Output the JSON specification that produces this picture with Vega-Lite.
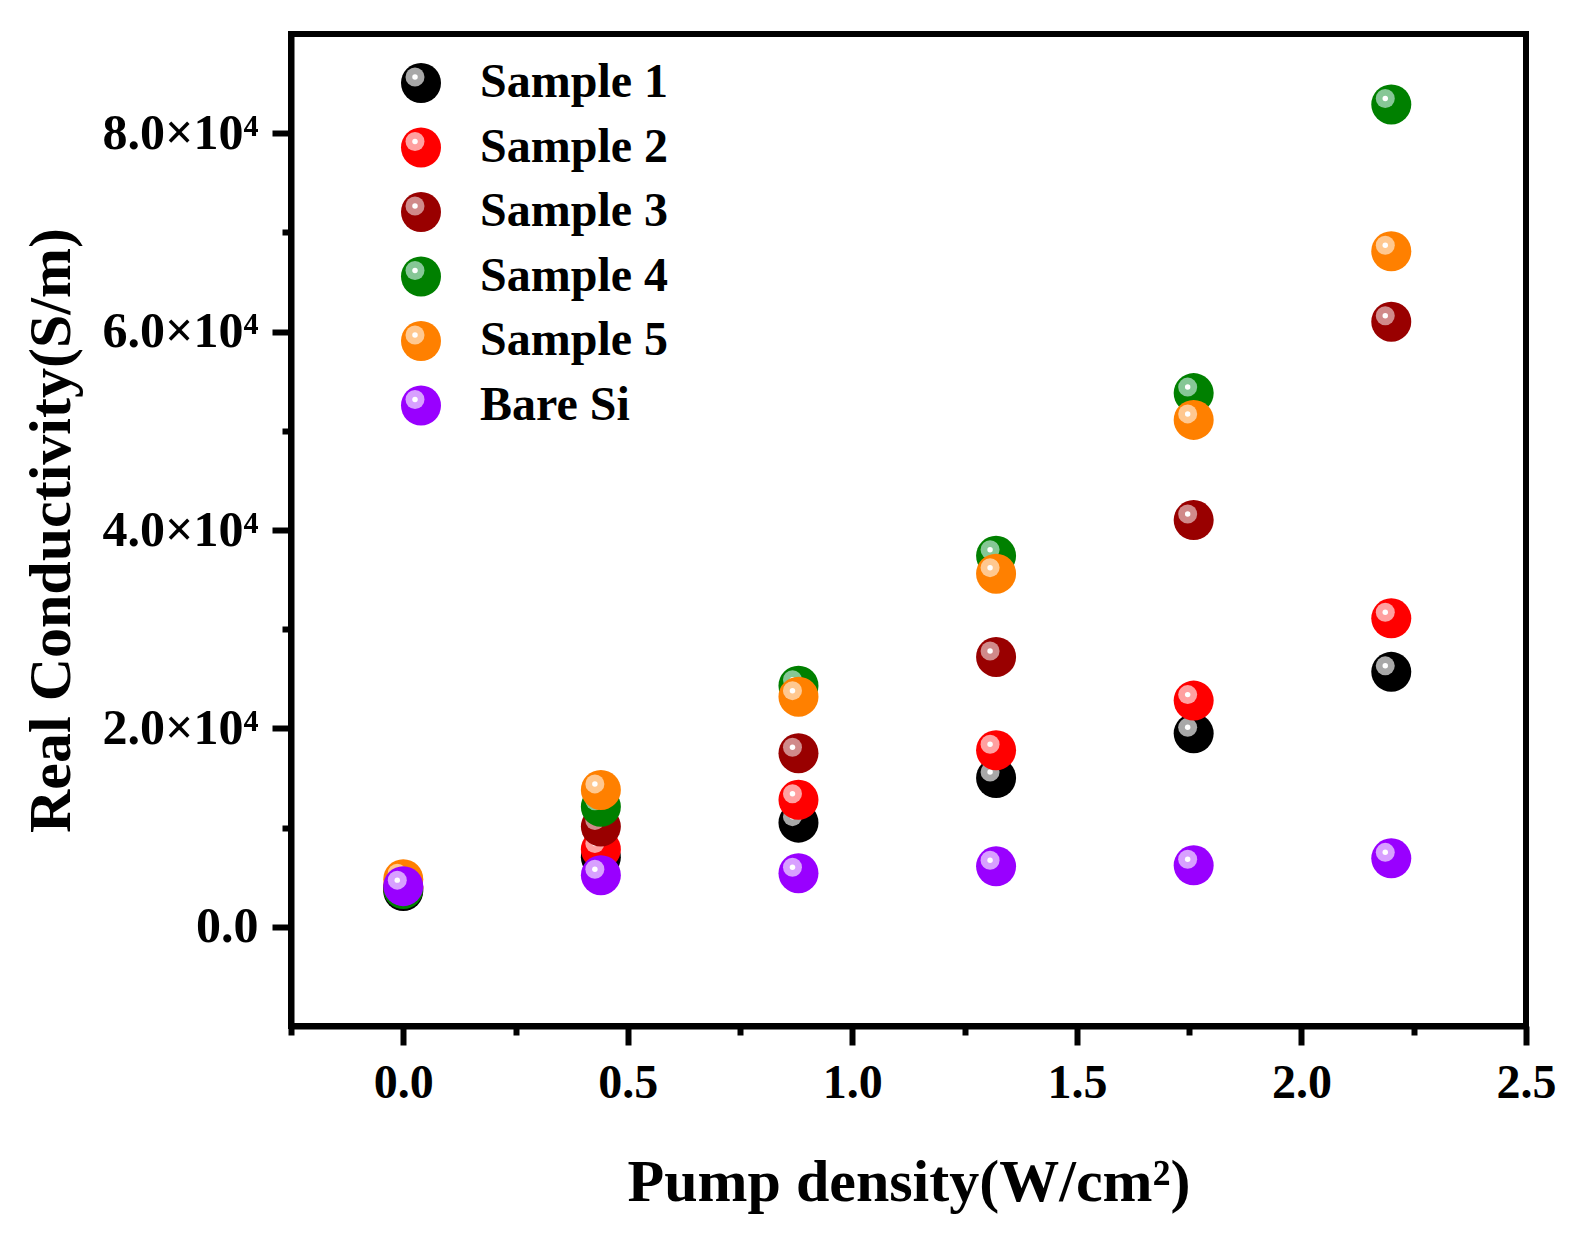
{
  "$schema": "https://vega.github.io/schema/vega-lite/v6.json",
  "description": "Real conductivity against pump density",
  "autosize": "none",
  "width": 1235,
  "height": 992,
  "padding": {"left": 291, "top": 34, "right": 57, "bottom": 218},
  "background": "white",
  "config": {
    "font": "Liberation Serif",
    "view": {"stroke": "black", "strokeWidth": 6}
  },
  "data": {
    "values": [
      {"series": "Sample 1", "k": 1, "pump": 0, "sigma": 3600},
      {"series": "Sample 1", "k": 1, "pump": 0.44, "sigma": 7000},
      {"series": "Sample 1", "k": 1, "pump": 0.88, "sigma": 10500},
      {"series": "Sample 1", "k": 1, "pump": 1.32, "sigma": 15000},
      {"series": "Sample 1", "k": 1, "pump": 1.76, "sigma": 19500},
      {"series": "Sample 1", "k": 1, "pump": 2.2, "sigma": 25700},
      {"series": "Sample 2", "k": 2, "pump": 0, "sigma": 3900},
      {"series": "Sample 2", "k": 2, "pump": 0.44, "sigma": 7800},
      {"series": "Sample 2", "k": 2, "pump": 0.88, "sigma": 12800},
      {"series": "Sample 2", "k": 2, "pump": 1.32, "sigma": 17800},
      {"series": "Sample 2", "k": 2, "pump": 1.76, "sigma": 22800},
      {"series": "Sample 2", "k": 2, "pump": 2.2, "sigma": 31100},
      {"series": "Sample 3", "k": 3, "pump": 0, "sigma": 4000},
      {"series": "Sample 3", "k": 3, "pump": 0.44, "sigma": 10100},
      {"series": "Sample 3", "k": 3, "pump": 0.88, "sigma": 17500},
      {"series": "Sample 3", "k": 3, "pump": 1.32, "sigma": 27200},
      {"series": "Sample 3", "k": 3, "pump": 1.76, "sigma": 41000},
      {"series": "Sample 3", "k": 3, "pump": 2.2, "sigma": 61000},
      {"series": "Sample 4", "k": 4, "pump": 0, "sigma": 3800},
      {"series": "Sample 4", "k": 4, "pump": 0.44, "sigma": 12100},
      {"series": "Sample 4", "k": 4, "pump": 0.88, "sigma": 24300},
      {"series": "Sample 4", "k": 4, "pump": 1.32, "sigma": 37400},
      {"series": "Sample 4", "k": 4, "pump": 1.76, "sigma": 53800},
      {"series": "Sample 4", "k": 4, "pump": 2.2, "sigma": 82900},
      {"series": "Sample 5", "k": 5, "pump": 0, "sigma": 4800},
      {"series": "Sample 5", "k": 5, "pump": 0.44, "sigma": 13800},
      {"series": "Sample 5", "k": 5, "pump": 0.88, "sigma": 23200},
      {"series": "Sample 5", "k": 5, "pump": 1.32, "sigma": 35600},
      {"series": "Sample 5", "k": 5, "pump": 1.76, "sigma": 51100},
      {"series": "Sample 5", "k": 5, "pump": 2.2, "sigma": 68100},
      {"series": "Bare Si", "k": 6, "pump": 0, "sigma": 4100},
      {"series": "Bare Si", "k": 6, "pump": 0.44, "sigma": 5200},
      {"series": "Bare Si", "k": 6, "pump": 0.88, "sigma": 5400},
      {"series": "Bare Si", "k": 6, "pump": 1.32, "sigma": 6100},
      {"series": "Bare Si", "k": 6, "pump": 1.76, "sigma": 6200},
      {"series": "Bare Si", "k": 6, "pump": 2.2, "sigma": 6900}
    ]
  },
  "encoding": {
    "x": {
      "field": "pump",
      "type": "quantitative",
      "scale": {"domain": [-0.25, 2.5], "nice": false, "zero": false},
      "axis": {
        "values": [-0.25, 0, 0.25, 0.5, 0.75, 1, 1.25, 1.5, 1.75, 2, 2.25, 2.5],
        "labelExpr": "round(datum.value * 4) % 2 === 0 ? format(datum.value, '.1f') : ''",
        "tickSize": {"condition": {"test": "round(datum.value * 4) % 2 === 0", "value": 19}, "value": 9},
        "tickWidth": 6,
        "tickColor": "black",
        "domainWidth": 6,
        "domainColor": "black",
        "grid": false,
        "labelFontSize": 48,
        "labelFontWeight": "bold",
        "labelColor": "black",
        "labelPadding": 14,
        "labelFlush": false,
        "labelOverlap": false,
        "title": "Pump density(W/cm²)",
        "titleFontSize": 60,
        "titleFontWeight": "bold",
        "titleColor": "black",
        "titlePadding": 46
      }
    },
    "y": {
      "field": "sigma",
      "type": "quantitative",
      "scale": {"domain": [-10000, 90000], "nice": false, "zero": false},
      "axis": {
        "values": [0, 10000, 20000, 30000, 40000, 50000, 60000, 70000, 80000],
        "labelExpr": "datum.value === 0 ? '0.0' : (datum.value % 20000 === 0 ? format(datum.value / 10000, '.1f') + '×10⁴' : '')",
        "tickSize": {"condition": {"test": "datum.value % 20000 === 0", "value": 19}, "value": 9},
        "tickWidth": 6,
        "tickColor": "black",
        "domainWidth": 6,
        "domainColor": "black",
        "grid": false,
        "labelFontSize": 50,
        "labelFontWeight": "bold",
        "labelColor": "black",
        "labelPadding": 14,
        "labelFlush": false,
        "labelOverlap": false,
        "title": "Real Conductivity(S/m)",
        "titleFontSize": 60,
        "titleFontWeight": "bold",
        "titleColor": "black",
        "titlePadding": 20
      }
    }
  },
  "layer": [
    {
      "transform": [{"filter": "datum.series === 'Sample 1'"}],
      "layer": [
        {
          "mark": {"type": "point", "filled": true, "opacity": 1, "strokeWidth": 0, "size": 1600},
          "encoding": {
            "fill": {
              "field": "series", "type": "nominal",
              "scale": {"domain": ["Sample 1", "Sample 2", "Sample 3", "Sample 4", "Sample 5", "Bare Si"], "range": ["#000000", "#ff0000", "#990000", "#008000", "#ff8000", "#9900ff"]},
              "legend": {
                "orient": "none", "legendX": 106, "legendY": 25, "title": null, "padding": 0,
                "symbolType": "circle", "symbolSize": 1600, "symbolStrokeWidth": 0, "symbolOpacity": 1,
                "labelFont": "Liberation Serif", "labelFontSize": 48, "labelFontWeight": "bold", "labelColor": "black",
                "labelOffset": 35, "labelLimit": 400, "rowPadding": 16.5
              }
            }
          }
        },
        {
          "mark": {"type": "point", "filled": true, "opacity": 1, "strokeWidth": 0, "size": 361, "xOffset": -6, "yOffset": -6},
          "encoding": {
            "color": {
              "field": "series", "type": "nominal",
              "sort": {"field": "k", "op": "min"},
              "scale": {"range": ["#a8a8a8", "#ffa0a0", "#d08a8a", "#86c796", "#ffc890", "#d8a0ff"]},
              "legend": {
                "orient": "none", "legendX": 100, "legendY": 19, "title": null, "padding": 0,
                "symbolType": "circle", "symbolSize": 361, "symbolStrokeWidth": 0, "symbolOpacity": 1,
                "labelExpr": "''", "labelFontSize": 48,
                "labelOffset": 35, "rowPadding": 16.5
              }
            }
          }
        },
        {
          "mark": {"type": "point", "filled": true, "opacity": 1, "strokeWidth": 0, "size": 30, "color": "white", "xOffset": -6, "yOffset": -6},
          "encoding": {
            "shape": {
              "field": "series", "type": "nominal",
              "sort": {"field": "k", "op": "max"},
              "scale": {"range": ["circle", "circle", "circle", "circle", "circle", "circle"]},
              "legend": {
                "orient": "none", "legendX": 100, "legendY": 19, "title": null, "padding": 0,
                "symbolType": "circle", "symbolSize": 30, "symbolStrokeWidth": 0, "symbolOpacity": 1, "symbolFillColor": "white",
                "labelExpr": "''", "labelFontSize": 48,
                "labelOffset": 35, "rowPadding": 16.5
              }
            }
          }
        }
      ]
    },
    {
      "transform": [{"filter": "datum.series === 'Sample 2'"}],
      "layer": [
        {"mark": {"type": "point", "filled": true, "opacity": 1, "strokeWidth": 0, "size": 1600},
         "encoding": {"fill": {"field": "series", "type": "nominal", "scale": {"domain": ["Sample 1", "Sample 2", "Sample 3", "Sample 4", "Sample 5", "Bare Si"], "range": ["#000000", "#ff0000", "#990000", "#008000", "#ff8000", "#9900ff"]}}}},
        {"mark": {"type": "point", "filled": true, "opacity": 1, "strokeWidth": 0, "size": 361, "xOffset": -6, "yOffset": -6},
         "encoding": {"color": {"field": "series", "type": "nominal", "sort": {"field": "k", "op": "min"}, "scale": {"range": ["#a8a8a8", "#ffa0a0", "#d08a8a", "#86c796", "#ffc890", "#d8a0ff"]}}}},
        {"mark": {"type": "point", "filled": true, "opacity": 1, "strokeWidth": 0, "size": 30, "color": "white", "xOffset": -6, "yOffset": -6},
         "encoding": {"shape": {"field": "series", "type": "nominal", "sort": {"field": "k", "op": "max"}, "scale": {"range": ["circle", "circle", "circle", "circle", "circle", "circle"]}}}}
      ]
    },
    {
      "transform": [{"filter": "datum.series === 'Sample 3'"}],
      "layer": [
        {"mark": {"type": "point", "filled": true, "opacity": 1, "strokeWidth": 0, "size": 1600},
         "encoding": {"fill": {"field": "series", "type": "nominal", "scale": {"domain": ["Sample 1", "Sample 2", "Sample 3", "Sample 4", "Sample 5", "Bare Si"], "range": ["#000000", "#ff0000", "#990000", "#008000", "#ff8000", "#9900ff"]}}}},
        {"mark": {"type": "point", "filled": true, "opacity": 1, "strokeWidth": 0, "size": 361, "xOffset": -6, "yOffset": -6},
         "encoding": {"color": {"field": "series", "type": "nominal", "sort": {"field": "k", "op": "min"}, "scale": {"range": ["#a8a8a8", "#ffa0a0", "#d08a8a", "#86c796", "#ffc890", "#d8a0ff"]}}}},
        {"mark": {"type": "point", "filled": true, "opacity": 1, "strokeWidth": 0, "size": 30, "color": "white", "xOffset": -6, "yOffset": -6},
         "encoding": {"shape": {"field": "series", "type": "nominal", "sort": {"field": "k", "op": "max"}, "scale": {"range": ["circle", "circle", "circle", "circle", "circle", "circle"]}}}}
      ]
    },
    {
      "transform": [{"filter": "datum.series === 'Sample 4'"}],
      "layer": [
        {"mark": {"type": "point", "filled": true, "opacity": 1, "strokeWidth": 0, "size": 1600},
         "encoding": {"fill": {"field": "series", "type": "nominal", "scale": {"domain": ["Sample 1", "Sample 2", "Sample 3", "Sample 4", "Sample 5", "Bare Si"], "range": ["#000000", "#ff0000", "#990000", "#008000", "#ff8000", "#9900ff"]}}}},
        {"mark": {"type": "point", "filled": true, "opacity": 1, "strokeWidth": 0, "size": 361, "xOffset": -6, "yOffset": -6},
         "encoding": {"color": {"field": "series", "type": "nominal", "sort": {"field": "k", "op": "min"}, "scale": {"range": ["#a8a8a8", "#ffa0a0", "#d08a8a", "#86c796", "#ffc890", "#d8a0ff"]}}}},
        {"mark": {"type": "point", "filled": true, "opacity": 1, "strokeWidth": 0, "size": 30, "color": "white", "xOffset": -6, "yOffset": -6},
         "encoding": {"shape": {"field": "series", "type": "nominal", "sort": {"field": "k", "op": "max"}, "scale": {"range": ["circle", "circle", "circle", "circle", "circle", "circle"]}}}}
      ]
    },
    {
      "transform": [{"filter": "datum.series === 'Sample 5'"}],
      "layer": [
        {"mark": {"type": "point", "filled": true, "opacity": 1, "strokeWidth": 0, "size": 1600},
         "encoding": {"fill": {"field": "series", "type": "nominal", "scale": {"domain": ["Sample 1", "Sample 2", "Sample 3", "Sample 4", "Sample 5", "Bare Si"], "range": ["#000000", "#ff0000", "#990000", "#008000", "#ff8000", "#9900ff"]}}}},
        {"mark": {"type": "point", "filled": true, "opacity": 1, "strokeWidth": 0, "size": 361, "xOffset": -6, "yOffset": -6},
         "encoding": {"color": {"field": "series", "type": "nominal", "sort": {"field": "k", "op": "min"}, "scale": {"range": ["#a8a8a8", "#ffa0a0", "#d08a8a", "#86c796", "#ffc890", "#d8a0ff"]}}}},
        {"mark": {"type": "point", "filled": true, "opacity": 1, "strokeWidth": 0, "size": 30, "color": "white", "xOffset": -6, "yOffset": -6},
         "encoding": {"shape": {"field": "series", "type": "nominal", "sort": {"field": "k", "op": "max"}, "scale": {"range": ["circle", "circle", "circle", "circle", "circle", "circle"]}}}}
      ]
    },
    {
      "transform": [{"filter": "datum.series === 'Bare Si'"}],
      "layer": [
        {"mark": {"type": "point", "filled": true, "opacity": 1, "strokeWidth": 0, "size": 1600},
         "encoding": {"fill": {"field": "series", "type": "nominal", "scale": {"domain": ["Sample 1", "Sample 2", "Sample 3", "Sample 4", "Sample 5", "Bare Si"], "range": ["#000000", "#ff0000", "#990000", "#008000", "#ff8000", "#9900ff"]}}}},
        {"mark": {"type": "point", "filled": true, "opacity": 1, "strokeWidth": 0, "size": 361, "xOffset": -6, "yOffset": -6},
         "encoding": {"color": {"field": "series", "type": "nominal", "sort": {"field": "k", "op": "min"}, "scale": {"range": ["#a8a8a8", "#ffa0a0", "#d08a8a", "#86c796", "#ffc890", "#d8a0ff"]}}}},
        {"mark": {"type": "point", "filled": true, "opacity": 1, "strokeWidth": 0, "size": 30, "color": "white", "xOffset": -6, "yOffset": -6},
         "encoding": {"shape": {"field": "series", "type": "nominal", "sort": {"field": "k", "op": "max"}, "scale": {"range": ["circle", "circle", "circle", "circle", "circle", "circle"]}}}}
      ]
    }
  ]
}
